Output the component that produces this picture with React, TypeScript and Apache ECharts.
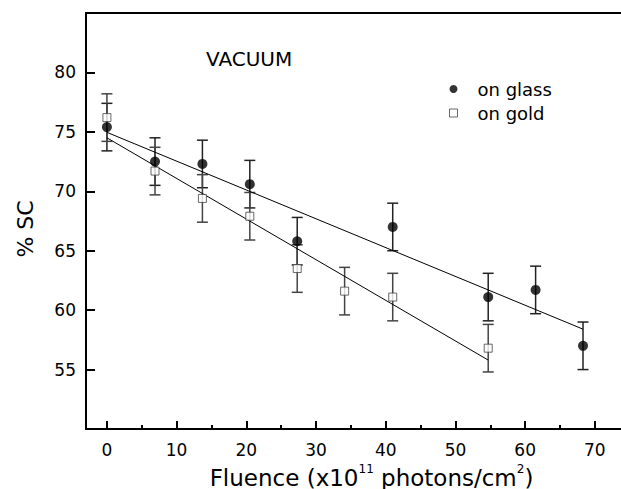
import React, { useEffect, useRef } from "react";
import * as echarts from "echarts";

const glassX = [0, 6.9, 13.7, 20.5, 27.3, 41.0, 54.7, 61.5, 68.3];
const glassY = [75.4, 72.5, 72.3, 70.6, 65.8, 67.0, 61.1, 61.7, 57.0];
const glassErr = [2, 2, 2, 2, 2, 2, 2, 2, 2];

const goldX = [0, 6.9, 13.7, 20.5, 27.3, 34.1, 41.0, 54.7];
const goldY = [76.2, 71.7, 69.4, 67.9, 63.5, 61.6, 61.1, 56.8];
const goldErr = [2, 2, 2, 2, 2, 2, 2, 2];

const glassFitX = [0, 68.3];
const glassFitY = [74.96, 58.4];
const goldFitX = [0, 54.7];
const goldFitY = [74.5, 55.8];

const xMajorTicks = [0, 10, 20, 30, 40, 50, 60, 70];
const xMinorTicks = [5, 15, 25, 35, 45, 55, 65];
const yTicks = [55, 60, 65, 70, 75, 80];

const FONT = "DejaVu Sans";

function errRender(color: string) {
  return (params: any, api: any) => {
    const x = api.value(0);
    const lo = api.value(1);
    const hi = api.value(2);
    const p1 = api.coord([x, lo]);
    const p2 = api.coord([x, hi]);
    const hw = 5.5;
    const style = { stroke: color, lineWidth: 1.5, fill: "none" };
    return {
      type: "group",
      children: [
        { type: "line", shape: { x1: p1[0], y1: p1[1], x2: p2[0], y2: p2[1] }, style },
        { type: "line", shape: { x1: p1[0] - hw, y1: p1[1], x2: p1[0] + hw, y2: p1[1] }, style },
        { type: "line", shape: { x1: p2[0] - hw, y1: p2[1], x2: p2[0] + hw, y2: p2[1] }, style },
      ],
    };
  };
}

export default function App() {
  const ref = useRef<HTMLDivElement>(null);
  useEffect(() => {
    document.body.style.margin = "0";
    if (!ref.current) return;
    const chart = echarts.init(ref.current, undefined, { renderer: "svg" });
    const xMin = -3;
    const xMax = 73.75;
    const axisLineStyle = { color: "#000", width: 2 };
    chart.setOption({
      animation: false,
      backgroundColor: "#fff",
      grid: { left: 86, right: 0, top: 13, bottom: 60 },
      xAxis: [
        {
          type: "value",
          min: xMin,
          max: xMax,
          position: "bottom",
          axisLine: { show: true, onZero: false, lineStyle: axisLineStyle },
          axisTick: { show: true, inside: true, length: 8, customValues: xMajorTicks, lineStyle: { color: "#000", width: 2 } },
          axisLabel: { customValues: xMajorTicks, fontSize: 17, color: "#000", fontFamily: FONT, margin: 12 },
          splitLine: { show: false },
        },
        {
          type: "value",
          min: xMin,
          max: xMax,
          position: "bottom",
          axisLine: { show: false, onZero: false },
          axisTick: { show: true, inside: true, length: 4, customValues: xMinorTicks, lineStyle: { color: "#000", width: 2 } },
          axisLabel: { show: false },
          splitLine: { show: false },
        },
        {
          type: "value",
          min: xMin,
          max: xMax,
          position: "top",
          axisLine: { show: true, onZero: false, lineStyle: axisLineStyle },
          axisTick: { show: false },
          axisLabel: { show: false },
          splitLine: { show: false },
        },
      ],
      yAxis: {
        type: "value",
        min: 50,
        max: 85,
        axisLine: { show: true, onZero: false, lineStyle: axisLineStyle },
        axisTick: { show: true, inside: true, length: 9, customValues: yTicks, lineStyle: { color: "#000", width: 2 } },
        axisLabel: { customValues: yTicks, fontSize: 17, color: "#000", fontFamily: FONT, margin: 10 },
        splitLine: { show: false },
      },
      legend: {
        orient: "vertical",
        left: 444,
        top: 75,
        itemWidth: 8,
        itemHeight: 8,
        itemGap: 6,
        textStyle: { fontSize: 18, fontFamily: FONT, color: "#000", lineHeight: 18, padding: [0, 0, 0, 15] },
        data: [
          { name: "on glass", icon: "circle", itemStyle: { color: "#000" } },
          { name: "on gold", icon: "rect", itemStyle: { color: "#fff", borderColor: "#444", borderWidth: 1 } },
        ],
      },
      graphic: [
        {
          type: "text",
          x: 206,
          y: 58.7,
          style: { text: "VACUUM", fontSize: 20, fontFamily: FONT, fill: "#000", align: "left", verticalAlign: "middle" },
        },
        {
          type: "text",
          x: 25,
          y: 229,
          rotation: Math.PI / 2,
          style: { text: "% SC", fontSize: 22, fontFamily: FONT, fill: "#000", align: "center", verticalAlign: "middle" },
        },
        {
          type: "text",
          x: 371.5,
          y: 476,
          style: {
            text: "{a|Fluence (x10}{s|11}{a| photons/cm}{s|2}{a|)}",
            align: "center",
            verticalAlign: "middle",
            fill: "#000",
            rich: {
              a: { fontSize: 23, fontFamily: FONT, lineHeight: 26, verticalAlign: "bottom", fill: "#000" },
              s: { fontSize: 12, fontFamily: FONT, lineHeight: 26, verticalAlign: "top", fill: "#000" },
            },
          },
        },
      ],
      series: [
        {
          type: "custom",
          name: "glass err",
          xAxisIndex: 0,
          renderItem: errRender("#222"),
          encode: { x: 0, y: [1, 2] },
          data: glassX.map((x, i) => [x, glassY[i] - glassErr[i], glassY[i] + glassErr[i]]),
          z: 1,
        },
        {
          type: "custom",
          name: "gold err",
          xAxisIndex: 0,
          renderItem: errRender("#444"),
          encode: { x: 0, y: [1, 2] },
          data: goldX.map((x, i) => [x, goldY[i] - goldErr[i], goldY[i] + goldErr[i]]),
          z: 1,
        },
        {
          type: "line",
          name: "glass fit",
          xAxisIndex: 0,
          data: glassFitX.map((x, i) => [x, glassFitY[i]]),
          showSymbol: false,
          symbol: "none",
          lineStyle: { color: "#000", width: 1 },
          z: 2,
        },
        {
          type: "line",
          name: "gold fit",
          xAxisIndex: 0,
          data: goldFitX.map((x, i) => [x, goldFitY[i]]),
          showSymbol: false,
          symbol: "none",
          lineStyle: { color: "#000", width: 1 },
          z: 2,
        },
        {
          type: "scatter",
          name: "on glass",
          xAxisIndex: 0,
          symbol: "circle",
          symbolSize: 10,
          itemStyle: { color: "#000" },
          data: glassX.map((x, i) => [x, glassY[i]]),
          z: 3,
        },
        {
          type: "scatter",
          name: "on gold",
          xAxisIndex: 0,
          symbol: "rect",
          symbolSize: 8,
          itemStyle: { color: "#fff", borderColor: "#444", borderWidth: 1 },
          data: goldX.map((x, i) => [x, goldY[i]]),
          z: 3,
        },
      ],
    });
    return () => chart.dispose();
  }, []);
  return <div ref={ref} style={{ width: 621, height: 489 }} />;
}
